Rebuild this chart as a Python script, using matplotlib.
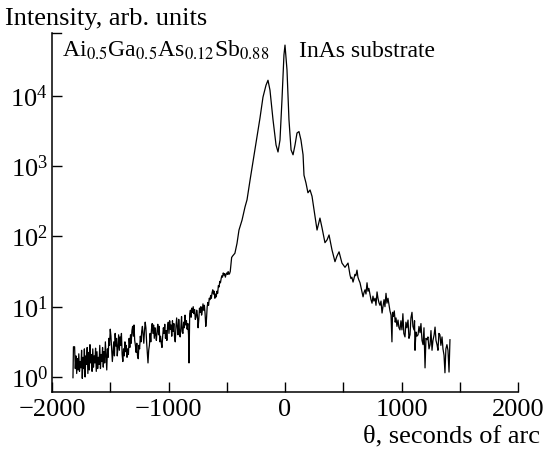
import numpy as np
import matplotlib
matplotlib.use("Agg")
import matplotlib.pyplot as plt
from matplotlib.ticker import FixedLocator, NullLocator, NullFormatter

plt.rcParams["font.family"] = ["Liberation Serif", "DejaVu Serif"]
plt.rcParams["mathtext.fontset"] = "stix"

# rocking curve: (angle in arc sec, log10 intensity)
left_wing = [
    (-1820, -0.01), (-1816, 0.43), (-1806, 0.43), (-1800, 0.12), (-1794, 0.30),
    (-1788, 0.05), (-1782, 0.26), (-1776, 0.10), (-1770, 0.33), (-1764, 0.08),
    (-1758, 0.22), (-1752, 0.13), (-1746, 0.38), (-1740, -0.02), (-1734, 0.28),
    (-1728, 0.12), (-1722, 0.40), (-1716, 0.00), (-1710, 0.30), (-1704, 0.18),
    (-1698, 0.42), (-1692, 0.05), (-1686, 0.35), (-1680, 0.10), (-1674, 0.46),
    (-1668, 0.20), (-1662, 0.32), (-1656, 0.08), (-1650, 0.40), (-1644, 0.14),
    (-1638, 0.30), (-1632, 0.20), (-1626, 0.41), (-1620, 0.08), (-1614, 0.36),
    (-1608, 0.12), (-1602, 0.28), (-1596, 0.18), (-1590, 0.45), (-1584, 0.12),
    (-1578, 0.32), (-1572, 0.22), (-1566, 0.42), (-1560, 0.14), (-1554, 0.36),
    (-1548, 0.20), (-1542, 0.50), (-1536, 0.30), (-1530, 0.10), (-1524, 0.40),
    (-1518, 0.28), (-1512, 0.55), (-1506, 0.45), (-1500, 0.68), (-1494, 0.58),
    (-1488, 0.40), (-1482, 0.22), (-1476, 0.35), (-1470, 0.50), (-1464, 0.30),
    (-1458, 0.62), (-1452, 0.44), (-1446, 0.55), (-1440, 0.30), (-1434, 0.42),
    (-1428, 0.60), (-1422, 0.38), (-1416, 0.57), (-1410, 0.45), (-1404, 0.62),
    (-1398, 0.32), (-1392, 0.22), (-1386, 0.40), (-1380, 0.30), (-1374, 0.50),
    (-1368, 0.36), (-1362, 0.45), (-1356, 0.28), (-1350, 0.40), (-1344, 0.32),
    (-1338, 0.55), (-1332, 0.42), (-1326, 0.60), (-1320, 0.48), (-1314, 0.66),
    (-1308, 0.72), (-1302, 0.58), (-1296, 0.74), (-1290, 0.52), (-1284, 0.45),
    (-1278, 0.35), (-1272, 0.48), (-1266, 0.30), (-1260, 0.26), (-1254, 0.45),
    (-1248, 0.40), (-1242, 0.58), (-1236, 0.50), (-1230, 0.65), (-1224, 0.72),
    (-1218, 0.60), (-1212, 0.48), (-1206, 0.66), (-1200, 0.78), (-1194, 0.70),
    (-1188, 0.50), (-1182, 0.35), (-1176, 0.20), (-1170, 0.38), (-1164, 0.45),
    (-1158, 0.62), (-1152, 0.50), (-1146, 0.68), (-1140, 0.76), (-1134, 0.62),
    (-1128, 0.74), (-1122, 0.55), (-1116, 0.70), (-1110, 0.60), (-1104, 0.52),
    (-1098, 0.66), (-1092, 0.75), (-1086, 0.60), (-1080, 0.72), (-1074, 0.50),
    (-1068, 0.58), (-1062, 0.48), (-1056, 0.42), (-1050, 0.58), (-1044, 0.70),
    (-1038, 0.62), (-1032, 0.75), (-1026, 0.55), (-1020, 0.66), (-1014, 0.52),
    (-1008, 0.72), (-1002, 0.78), (-996, 0.62), (-990, 0.80), (-984, 0.68),
    (-978, 0.74), (-972, 0.58), (-966, 0.80), (-960, 0.65), (-954, 0.76),
    (-948, 0.56), (-942, 0.50), (-936, 0.72), (-930, 0.84), (-924, 0.70),
    (-918, 0.60), (-912, 0.82), (-906, 0.66), (-900, 0.57), (-894, 0.70),
    (-888, 0.86), (-882, 0.64), (-876, 0.62), (-870, 0.78), (-864, 0.70),
    (-858, 0.88), (-852, 0.74), (-846, 0.80), (-840, 0.68), (-834, 0.76),
    (-828, 0.60), (-824, 0.20), (-818, 0.90), (-812, 0.95), (-806, 0.85),
    (-800, 0.98), (-794, 0.92), (-788, 1.00), (-782, 0.90), (-776, 0.96),
    (-770, 0.82), (-764, 0.85), (-758, 0.95), (-752, 0.88), (-746, 0.70),
    (-740, 0.82), (-734, 0.98), (-728, 0.92), (-722, 1.00), (-716, 0.88),
    (-710, 0.94), (-704, 1.04), (-698, 0.95), (-692, 1.02), (-686, 0.90),
    (-680, 0.72), (-674, 0.82), (-668, 1.00), (-662, 1.06), (-656, 1.02),
    (-650, 1.12), (-644, 1.10), (-638, 1.16), (-632, 1.12), (-626, 1.20),
    (-620, 1.24), (-614, 1.18), (-608, 1.22), (-602, 1.12), (-596, 1.18),
    (-590, 1.14), (-584, 1.22), (-578, 1.19), (-572, 1.30), (-566, 1.28),
    (-560, 1.36), (-554, 1.34), (-548, 1.40), (-542, 1.44), (-536, 1.42),
    (-530, 1.48), (-524, 1.45), (-518, 1.47), (-512, 1.42), (-506, 1.46),
    (-500, 1.48), (-494, 1.46), (-488, 1.50), (-482, 1.46), (-476, 1.47),
    (-470, 1.50), (-464, 1.60), (-458, 1.70), (-450, 1.72), (-440, 1.74),
    (-430, 1.76), (-420, 1.84), (-412, 1.90),
]
peaks = [
    (-395, 2.09), (-369, 2.23), (-343, 2.42), (-326, 2.52), (-300, 2.80),
    (-258, 3.23), (-215, 3.68), (-189, 3.98), (-163, 4.15), (-146, 4.22),
    (-129, 4.08), (-103, 3.66), (-77, 3.30), (-60, 3.20), (-43, 3.37),
    (-26, 3.94), (-9, 4.58), (0, 4.72), (17, 4.37), (34, 3.66),
    (52, 3.23), (69, 3.16), (86, 3.30), (103, 3.47), (120, 3.49),
    (137, 3.37), (155, 3.16), (163, 2.87), (180, 2.76), (197, 2.62),
    (215, 2.66), (232, 2.57), (249, 2.38), (275, 2.09), (300, 2.26),
    (318, 2.12), (343, 1.91), (361, 1.95), (378, 2.02), (403, 1.81),
    (429, 1.64), (446, 1.72), (464, 1.78), (489, 1.62), (515, 1.56),
    (541, 1.62),
]
right_wing = [
    (558, 1.45), (566, 1.40), (574, 1.42), (584, 1.35), (592, 1.40),
    (600, 1.46), (608, 1.44), (618, 1.52), (626, 1.42), (634, 1.38),
    (644, 1.34), (652, 1.28), (660, 1.22), (670, 1.14), (678, 1.20),
    (687, 1.24), (695, 1.18), (704, 1.34), (712, 1.22), (720, 1.26),
    (730, 1.17), (738, 1.10), (747, 1.05), (755, 1.15), (763, 1.08),
    (773, 1.12), (781, 1.02), (790, 1.21), (798, 1.12), (806, 1.06),
    (815, 1.02), (824, 1.08), (833, 0.91), (841, 1.00), (850, 1.10),
    (858, 1.00), (867, 1.19), (875, 1.05), (884, 1.12), (893, 1.02),
    (901, 0.94), (910, 0.88), (918, 0.50), (923, 0.92), (930, 0.86),
    (938, 0.94), (946, 0.78), (953, 0.84), (961, 0.72), (970, 0.81),
    (978, 0.70), (987, 0.67), (995, 0.80), (1004, 0.67), (1012, 0.90),
    (1020, 0.62), (1030, 0.57), (1038, 0.78), (1046, 0.70), (1056, 0.81),
    (1064, 0.55), (1073, 0.60), (1081, 0.84), (1090, 0.92), (1098, 0.72),
    (1107, 0.67), (1112, 0.80), (1116, 0.38), (1124, 0.64), (1132, 0.58),
    (1142, 0.60), (1150, 0.72), (1159, 0.63), (1167, 0.76), (1176, 0.52),
    (1185, 0.46), (1193, 0.70), (1202, 0.13), (1210, 0.55), (1219, 0.53),
    (1227, 0.57), (1236, 0.40), (1245, 0.46), (1253, 0.66), (1262, 0.38),
    (1270, 0.52), (1280, 0.60), (1288, 0.71), (1296, 0.52), (1305, 0.46),
    (1313, 0.38), (1321, 0.62), (1330, 0.60), (1338, 0.45), (1348, 0.57),
    (1356, 0.40), (1365, 0.31), (1373, 0.06), (1381, 0.40), (1390, 0.46),
    (1399, 0.38), (1404, 0.20), (1408, 0.07), (1412, 0.30), (1416, 0.53),
]
x_ticks = [-2000, -1500, -1000, -500, 0, 500, 1000, 1500, 2000]
x_tick_labels = ["\u22122000", "", "\u22121000", "", "0", "", "1000", "", "2000"]
y_ticks = [1, 10, 100, 1000, 10000]

curve = np.array(left_wing + peaks + right_wing)
theta = curve[:, 0]
intensity = 10 ** curve[:, 1]

fig = plt.figure(figsize=(5.44, 4.51), dpi=100)
ax = fig.add_axes([52 / 544, 59 / 451, 466 / 544, 359 / 451])

ax.plot(theta, intensity, color="black", linewidth=0.9)

ax.set_yscale("log")
ax.set_xlim(-2000, 2000)
ax.set_ylim(0.612, 78000)
ax.xaxis.set_major_locator(FixedLocator(x_ticks))
ax.set_xticklabels(x_tick_labels)
ax.yaxis.set_major_locator(FixedLocator(y_ticks))
ax.yaxis.set_minor_locator(NullLocator())
ax.yaxis.set_minor_formatter(NullFormatter())

for side in ["top", "right"]:
    ax.spines[side].set_visible(False)
for side in ["left", "bottom"]:
    ax.spines[side].set_linewidth(1.1)

ax.tick_params(axis="both", direction="in", length=7, width=1.0, labelsize=19)
ax.tick_params(axis="x", pad=5)
ax.tick_params(axis="y", pad=3)

# little cap at the top of the y axis
ax.plot([0, 0.02], [1, 1], transform=ax.transAxes, color="black",
        linewidth=1.0, clip_on=False)

fig.text(5 / 544, 1 - 25 / 451, "Intensity, arb. units", fontsize=19,
         ha="left", va="baseline")
fig.text(540 / 544, 1 - 442 / 451, "\u03b8, seconds of arc", fontsize=19,
         ha="right", va="baseline")
fig.text(62 / 544, 1 - 57 / 451,
         r"Ai$_{0.5}$Ga$_{0.5}$As$_{0.12}$Sb$_{0.88}$", fontsize=17,
         ha="left", va="baseline")
fig.text(299 / 544, 1 - 57 / 451, "InAs substrate", fontsize=17,
         ha="left", va="baseline")

fig.savefig("out.png", dpi=100)
